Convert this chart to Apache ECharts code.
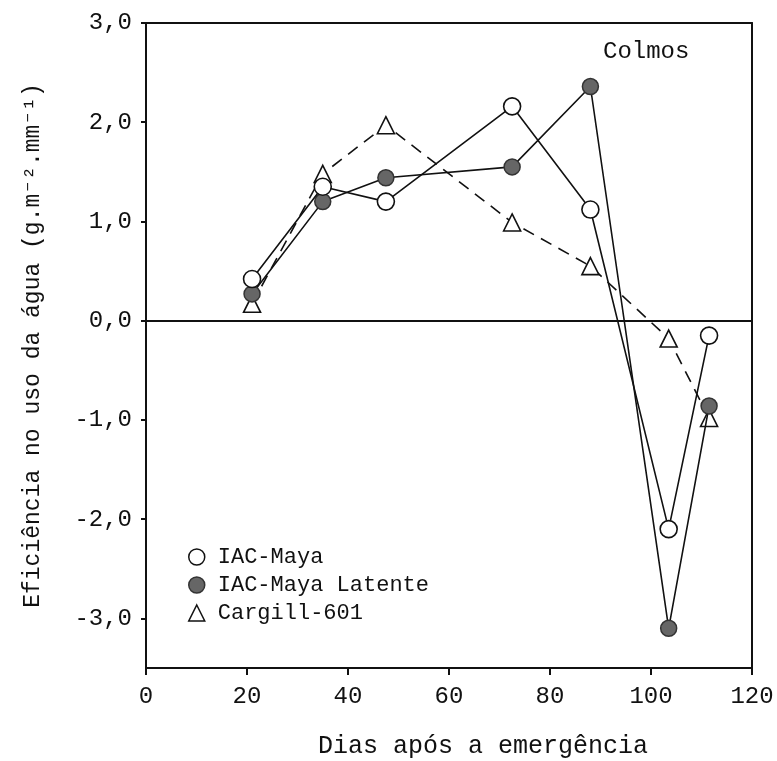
<!DOCTYPE html>
<html>
<head>
<meta charset="utf-8">
<script src="https://cdn.jsdelivr.net/npm/echarts@6/dist/echarts.min.js"></script>
<style>
  html, body { margin: 0; padding: 0; background: #fff; }
  #chart { width: 777px; height: 761px; }
</style>
</head>
<body>
<div id="chart"></div>
<script>
// dados (Colmos)
const dias = [21, 35, 47.5, 72.5, 88, 103.5, 111.5];
const iacMaya = [0.42, 1.35, 1.2, 2.16, 1.12, -2.1, -0.15];
const iacMayaLatente = [0.27, 1.2, 1.44, 1.55, 2.36, -3.1, -0.86];
const cargill601 = [0.17, 1.48, 1.97, 0.99, 0.55, -0.18, -0.98];
const yTicks = [-3, -2, -1, 0, 1, 2, 3];
const xTicks = [0, 20, 40, 60, 80, 100, 120];

const font = '"Liberation Mono", "DejaVu Sans Mono", monospace';
const ink = '#111';

const pares = (ys) => ys.map((v, i) => [dias[i], v]);

const chart = echarts.init(document.getElementById('chart'));

const axisCommon = {
  splitLine: { show: false },
  axisLine: { show: true, onZero: false, lineStyle: { color: ink, width: 2 } }
};

const options = {
  animation: false,
  backgroundColor: '#fff',
  grid: { left: 146, right: 25, top: 23, bottom: 93 },
  legend: {
    orient: 'vertical',
    left: 183,
    top: 541,
    itemWidth: 16,
    itemHeight: 16,
    itemGap: 6,
    selectedMode: false,
    textStyle: { fontFamily: font, fontSize: 22, color: ink, padding: [0, 0, 0, 8] },
    data: [
      { name: 'IAC-Maya', icon: 'circle', itemStyle: { color: '#fff', borderColor: ink, borderWidth: 1.5 } },
      { name: 'IAC-Maya Latente', icon: 'circle', itemStyle: { color: '#666', borderColor: '#333', borderWidth: 1.5 } },
      { name: 'Cargill-601', icon: 'triangle', itemStyle: { color: '#fff', borderColor: ink, borderWidth: 1.5 } }
    ]
  },
  xAxis: [
    {
      ...axisCommon,
      type: 'value',
      position: 'bottom',
      min: 0,
      max: 120,
      interval: 20,
      axisTick: { show: true, length: 7, lineStyle: { color: ink, width: 2 } },
      axisLabel: {
        margin: 17,
        fontFamily: font,
        fontSize: 24,
        color: ink,
        customValues: xTicks
      }
    },
    {
      ...axisCommon,
      type: 'value',
      position: 'top',
      min: 0,
      max: 120,
      axisTick: { show: false },
      axisLabel: { show: false }
    }
  ],
  yAxis: [
    {
      ...axisCommon,
      type: 'value',
      position: 'left',
      min: -3.5,
      max: 3,
      name: 'Eficiência no uso da água (g.m⁻².mm⁻¹)',
      nameLocation: 'middle',
      nameRotate: 90,
      nameGap: 102,
      nameTextStyle: { fontFamily: font, fontSize: 23, color: ink },
      axisTick: { show: true, length: 5, customValues: yTicks, lineStyle: { color: ink, width: 2 } },
      axisLabel: {
        margin: 14,
        fontFamily: font,
        fontSize: 24,
        color: ink,
        customValues: yTicks,
        formatter: (v) => v.toFixed(1).replace('.', ',')
      }
    },
    {
      ...axisCommon,
      type: 'value',
      position: 'right',
      min: -3.5,
      max: 3,
      axisTick: { show: false },
      axisLabel: { show: false }
    }
  ],
  graphic: [
    {
      type: 'text',
      left: 603,
      top: 40,
      style: { text: 'Colmos', font: '24px ' + font, fill: ink }
    },
    {
      type: 'text',
      left: 318,
      top: 734,
      style: { text: 'Dias após a emergência', font: '25px ' + font, fill: ink }
    }
  ],
  series: [
    {
      name: 'IAC-Maya',
      type: 'line',
      data: pares(iacMaya),
      symbol: 'circle',
      symbolSize: 17,
      z: 4,
      lineStyle: { color: ink, width: 1.6 },
      itemStyle: { color: '#fff', borderColor: ink, borderWidth: 1.6 },
      markLine: {
        silent: true,
        symbol: 'none',
        label: { show: false },
        lineStyle: { color: ink, width: 2, type: 'solid' },
        data: [{ yAxis: 0 }]
      }
    },
    {
      name: 'IAC-Maya Latente',
      type: 'line',
      data: pares(iacMayaLatente),
      symbol: 'circle',
      symbolSize: 16,
      z: 3,
      lineStyle: { color: ink, width: 1.6 },
      itemStyle: { color: '#666', borderColor: '#333', borderWidth: 1.5 }
    },
    {
      name: 'Cargill-601',
      type: 'line',
      data: pares(cargill601),
      symbol: 'triangle',
      symbolSize: 17,
      z: 2,
      lineStyle: { color: ink, width: 1.6, type: [12, 8] },
      itemStyle: { color: '#fff', borderColor: ink, borderWidth: 1.6 }
    }
  ]
};

chart.setOption(options);
window.addEventListener('resize', () => chart.resize());
</script>
</body>
</html>
